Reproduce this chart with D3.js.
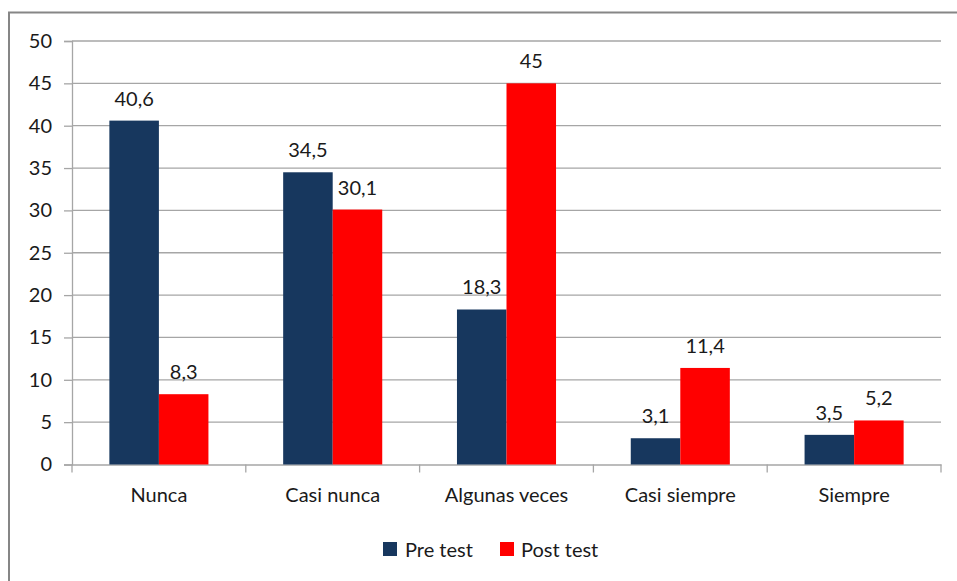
<!DOCTYPE html>
<html><head><meta charset="utf-8">
<script src="https://cdn.jsdelivr.net/npm/d3@7"></script>
<style>body{margin:0;background:#fff}svg{display:block}</style>
</head><body>
<script>
const categories = ["Nunca","Casi nunca","Algunas veces","Casi siempre","Siempre"];
const preTest = [40.6, 34.5, 18.3, 3.1, 3.5];
const postTest = [8.3, 30.1, 45, 11.4, 5.2];
const seriesNames = ["Pre test","Post test"];
const yTicks = [0,5,10,15,20,25,30,35,40,45,50];
const colors = ["#17375E","#FF0000"];

(function(){
const W=957,H=581;
const svg=d3.select("body").append("svg").attr("width",W).attr("height",H);
svg.append("rect").attr("x",9).attr("y",12.5).attr("width",W).attr("height",H).attr("fill","none").attr("stroke","#868686").attr("stroke-width",2);

const pL=72,pR=941,pT=41,pB=464.5;
const x=d3.scaleBand().domain(categories).range([pL,pR]);
const y=d3.scaleLinear().domain([0,50]).range([pB,pT]);
const font="Lato, 'Open Sans', sans-serif";
const txt="#1a1a1a";

svg.append("g").selectAll("line").data(yTicks.filter(d=>d>0)).join("line")
  .attr("x1",pL).attr("x2",pR).attr("y1",d=>y(d)).attr("y2",d=>y(d))
  .attr("stroke","#a6a6a6").attr("stroke-width",1.3);

const ya=svg.append("g").attr("transform",`translate(${pL},0)`)
  .call(d3.axisLeft(y).tickValues(yTicks).tickSize(8).tickPadding(12).tickFormat(d3.format("d")));
ya.select(".domain").attr("stroke","#a6a6a6").attr("stroke-width",1.3);
ya.selectAll(".tick line").attr("stroke","#a6a6a6").attr("stroke-width",1.3);
ya.selectAll("text").attr("font-family",font).attr("font-size",20).attr("fill",txt);

const xa=svg.append("g").attr("transform",`translate(0,${pB})`)
  .call(d3.axisBottom(x).tickSize(0).tickPadding(23));
xa.select(".domain").attr("stroke","#a6a6a6").attr("stroke-width",1.3);
xa.selectAll("text").attr("font-family",font).attr("font-size",20).attr("fill",txt);
const bounds=categories.map(c=>x(c)).concat([pR]);
svg.append("g").selectAll("line").data(bounds).join("line")
  .attr("x1",d=>d).attr("x2",d=>d).attr("y1",pB).attr("y2",pB+8)
  .attr("stroke","#a6a6a6").attr("stroke-width",1.3);

const barW=x.bandwidth()*0.285;
const series=[preTest,postTest];
series.forEach((vals,si)=>{
  const g=svg.append("g");
  g.selectAll("rect").data(vals).join("rect")
    .attr("x",(d,i)=>x(categories[i])+x.bandwidth()/2+(si-1)*barW)
    .attr("y",d=>y(d)).attr("width",barW).attr("height",d=>pB-y(d))
    .attr("fill",colors[si]);
  g.selectAll("text").data(vals).join("text")
    .attr("x",(d,i)=>x(categories[i])+x.bandwidth()/2+(si-0.5)*barW)
    .attr("y",d=>y(d)-15).attr("text-anchor","middle")
    .attr("font-family",font).attr("font-size",20).attr("fill",txt)
    .text(d=>String(d).replace(".",","));
});

const leg=[{x:383,tx:405},{x:500,tx:521}];
seriesNames.forEach((n,i)=>{
  svg.append("rect").attr("x",leg[i].x).attr("y",542).attr("width",14).attr("height",14).attr("fill",colors[i]);
  svg.append("text").attr("x",leg[i].tx).attr("y",557).attr("font-family",font).attr("font-size",20).attr("fill",txt).text(n);
});
})();
</script>
</body></html>
